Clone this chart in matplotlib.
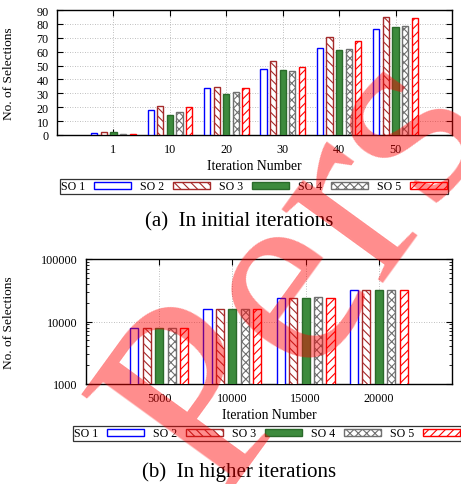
import numpy as np
import matplotlib
matplotlib.use('Agg')
import matplotlib.pyplot as plt
from matplotlib.patches import Patch
from matplotlib.ticker import FixedLocator, NullFormatter, LogLocator

plt.rcParams['font.family'] = ['Liberation Serif', 'DejaVu Serif']
plt.rcParams['hatch.linewidth'] = 0.8

# data
series = ['SO 1', 'SO 2', 'SO 3', 'SO 4', 'SO 5']
iters_low = ['1', '10', '20', '30', '40', '50']
low = {
    'SO 1': [1.4, 18, 33.6, 47.3, 62.6, 76.5],
    'SO 2': [2.0, 21, 34.8, 53.3, 70.3, 84.7],
    'SO 3': [2.4, 14.4, 29.5, 46.8, 61, 77.5],
    'SO 4': [1.0, 16.3, 30.7, 46, 61.7, 78.2],
    'SO 5': [1.0, 20, 34, 49, 67.4, 84],
}
iters_high = ['5000', '10000', '15000', '20000']
high = {
    'SO 1': [8000, 16000, 24000, 32000],
    'SO 2': [8000, 16000, 24000, 32000],
    'SO 3': [8000, 16000, 24000, 32000],
    'SO 4': [8000, 16000, 24500, 32500],
    'SO 5': [8000, 16000, 24000, 32000],
}

# bar styles (gnuplot-like)
styles = {
    'SO 1': dict(facecolor='white', edgecolor='#0000ff', hatch=''),
    'SO 2': dict(facecolor='white', edgecolor='#a52a2a', hatch='\\\\\\\\'),
    'SO 3': dict(facecolor='#3d8b3d', edgecolor='#2a6a2a', hatch=''),
    'SO 4': dict(facecolor='white', edgecolor='#707070', hatch='xxxx'),
    'SO 5': dict(facecolor='white', edgecolor='#ff0000', hatch='////'),
}

W, H = 461, 485
fig = plt.figure(figsize=(W / 100, H / 100), dpi=100)


def px_axes(l, t, r, b):
    return fig.add_axes([l / W, 1 - b / H, (r - l) / W, (b - t) / H])


def bars(ax, cats, data):
    x = np.arange(len(cats))
    pitch, width = 0.17, 0.11
    for i, s in enumerate(series):
        ax.bar(x + (i - 2) * pitch, data[s], width, linewidth=1.0,
               zorder=3, **styles[s])
    ax.set_xticks(x)
    ax.set_xticklabels(cats)
    ax.set_xlim(-1, len(cats))
    ax.tick_params(direction='in', top=True, right=True, labelsize=8.7,
                   length=4, width=0.8, pad=6)
    ax.grid(True, which='major', linestyle=(0, (1, 2)), color='#aaaaaa',
            linewidth=0.6, zorder=0)
    for sp in ax.spines.values():
        sp.set_linewidth(1.0)
    ax.set_xlabel('Iteration Number', fontsize=9.8, labelpad=3)
    ax.set_ylabel('No. of Selections', fontsize=9.6)


def legend(x0, x1, yc):
    handles = [Patch(linewidth=1.0, **styles[s]) for s in series]
    lg = fig.legend(handles, series, loc='center', ncol=5,
                    bbox_to_anchor=((x0 + x1) / 2 / W, 1 - yc / H),
                    markerfirst=False, fontsize=8.6, frameon=True,
                    fancybox=False, edgecolor='black', borderpad=0.12,
                    handlelength=3.1, handleheight=0.55, handletextpad=0.7,
                    columnspacing=0.8, borderaxespad=0)
    lg.get_frame().set_linewidth(0.9)


# top chart
ax1 = px_axes(57, 11, 452, 136)
bars(ax1, iters_low, low)
ax1.set_ylim(0, 90)
ax1.set_yticks(np.arange(0, 91, 10))
ax1.yaxis.set_label_coords((15 - 57) / 395, 0.5)
legend(58, 450, 187.5)
fig.text(239 / W, 1 - 222 / H, '(a)  In initial iterations', ha='center',
         va='center', fontsize=15)

# bottom chart
ax2 = px_axes(86, 260, 452, 385)
bars(ax2, iters_high, high)
ax2.set_yscale('log')
ax2.set_ylim(1000, 100000)
ax2.yaxis.set_major_locator(FixedLocator([1000, 10000, 100000]))
ax2.set_yticklabels(['1000', '10000', '100000'])
ax2.yaxis.set_minor_locator(LogLocator(base=10, subs=np.arange(2, 10)))
ax2.yaxis.set_minor_formatter(NullFormatter())
ax2.tick_params(which='minor', direction='in', right=True, length=2, width=0.6)
ax2.yaxis.set_label_coords((15 - 86) / 366, 0.5)
legend(73, 461, 434.5)
fig.text(239 / W, 1 - 472 / H, '(b)  In higher iterations', ha='center',
         va='center', fontsize=15)

# watermark
fig.text(302 / W, 1 - 272 / H, 'Pers', ha='center', va='center',
         rotation=54, fontsize=195, color='#ff0000', alpha=0.45,
         family='Liberation Serif', zorder=10)

fig.savefig('out.png', dpi=100)
